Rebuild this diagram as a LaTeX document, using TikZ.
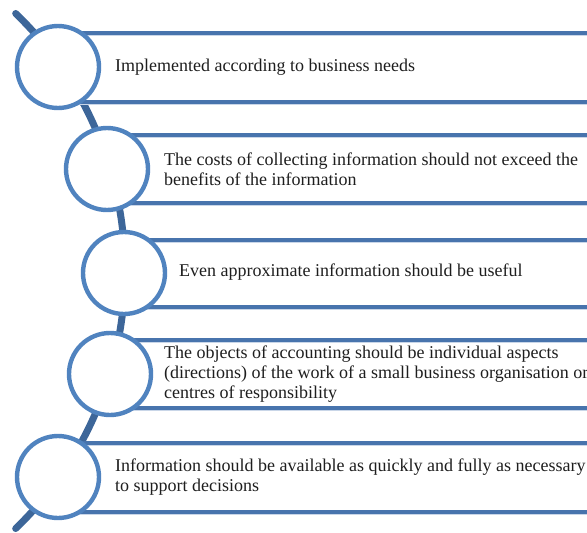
\documentclass[tikz,border=0pt]{standalone}
\usepackage{fontspec}
\setmainfont{Liberation Serif}
\definecolor{ringblue}{HTML}{5083BF}
\definecolor{bandblue}{HTML}{4874AD}
\definecolor{spineblue}{HTML}{3D6699}
\definecolor{shadowblue}{HTML}{C9D6E8}
\definecolor{txt}{HTML}{1E1E1E}
\begin{document}
\begin{tikzpicture}[x=1pt,y=1pt,
  ring/.style={circle, draw=ringblue, line width=4.4pt, fill=white, minimum size=82pt, inner sep=0pt},
  bandline/.style={draw=bandblue, line width=4.6pt},
  bandshadow/.style={draw=shadowblue, line width=1pt},
  spine/.style={draw=spineblue, line width=7pt, line cap=round},
  label/.style={anchor=west, align=left, inner sep=0pt, text=txt,
    font=\fontsize{18}{19.8}\selectfont}]
\useasboundingbox (0,0) rectangle (587,-533);
\clip (0,0) rectangle (587,-533);

% curved spine behind the rings
\draw[spine] (-233,-271) ++(46:358) arc[start angle=46, end angle=-46, radius=358];

% band edges: top and bottom rules for each item
\foreach \cx/\t/\b in {58/33/102, 107/135/203, 124/240/307, 110/340/408, 58/443/512}{
  \draw[bandshadow] (\cx,-\t-2.8) -- (587,-\t-2.8);
  \draw[bandshadow] (\cx,-\b-2.8) -- (587,-\b-2.8);
  \draw[bandline] (\cx,-\t) -- (587,-\t);
  \draw[bandline] (\cx,-\b) -- (587,-\b);
}

% rings
\node[ring] (c1) at (58,-67) {};
\node[ring] (c2) at (107,-169) {};
\node[ring] (c3) at (124,-273) {};
\node[ring] (c4) at (110,-374) {};
\node[ring] (c5) at (58,-477) {};

% item texts
\node[label] (t1) at (115,-67) {Implemented according to business needs};
\node[label] (t2) at (164,-169) {The costs of collecting information should not exceed the\\benefits of the information};
\node[label] (t3) at (179,-272) {Even approximate information should be useful};
\node[label] (t4) at (164,-374) {The objects of accounting should be individual aspects\\(directions) of the work of a small business organisation or\\centres of responsibility};
\node[label] (t5) at (115,-477) {Information should be available as quickly and fully as necessary\\to support decisions};
\end{tikzpicture}
\end{document}
